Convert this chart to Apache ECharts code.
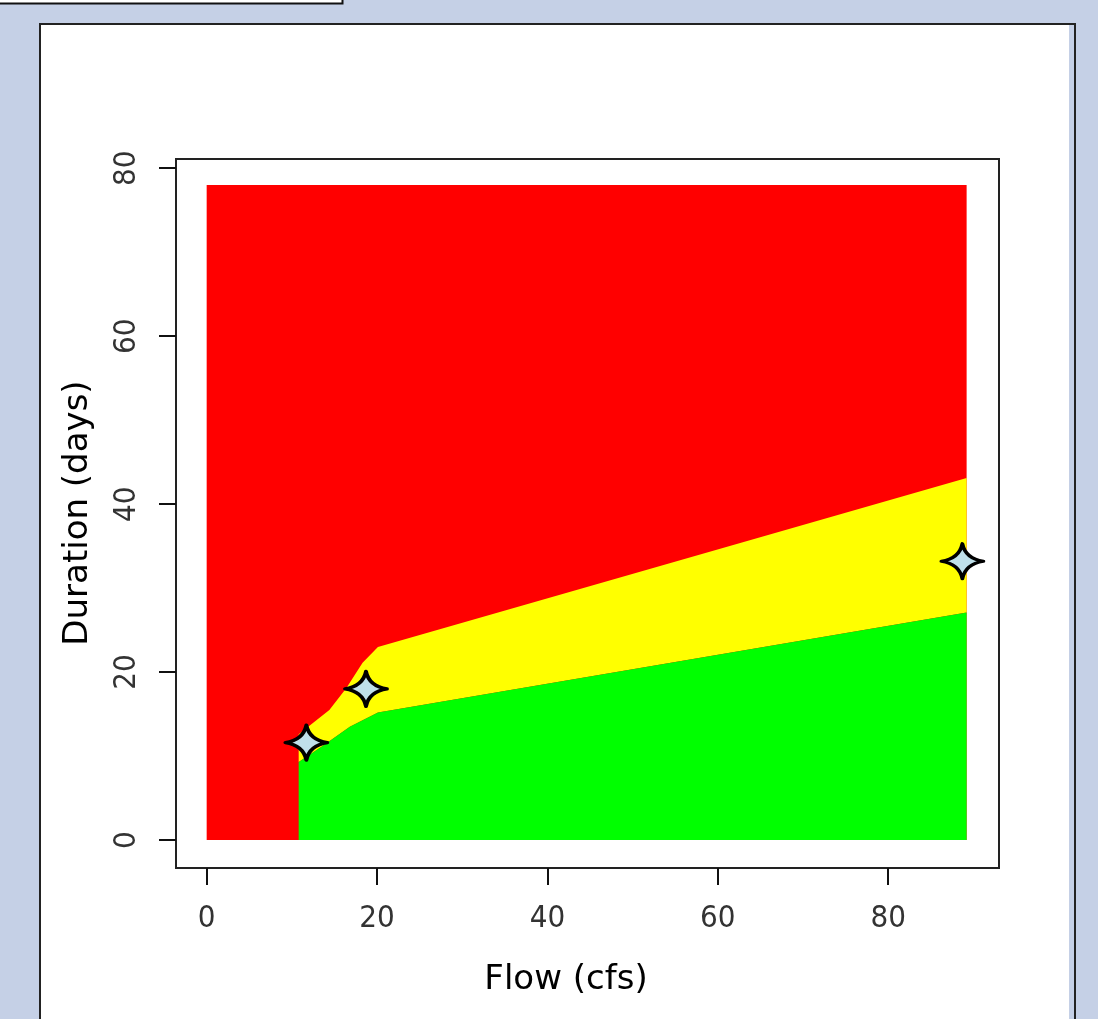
<!DOCTYPE html>
<html>
<head>
<meta charset="utf-8">
<style>
  html, body { margin: 0; padding: 0; background: #c5d0e6; }
  #chart { width: 1098px; height: 1019px; }
</style>
<script src="https://cdn.jsdelivr.net/npm/echarts@6/dist/echarts.min.js"></script>
</head>
<body>
<div id="chart"></div>
<script>
// ---- data ----
const flowMin = 0;
const flowMax = 89.2;
const durMin = 0;
const durMax = 78;

// red/yellow boundary
const upperFlow = [10.8, 14.4, 16.4, 18.3, 20.1, 89.2];
const upperDur  = [12.6, 15.5, 18.1, 21.1, 23.0, 43.1];
// yellow/green boundary
const lowerFlow = [10.8, 13.6, 16.8, 20.1, 89.2];
const lowerDur  = [9.3, 11.2, 13.5, 15.2, 27.1];

// observed points (stars)
const pointFlow = [11.7, 18.7, 88.7];
const pointDur  = [11.6, 18.0, 33.2];

const xTicks = [0, 20, 40, 60, 80];
const yTicks = [0, 20, 40, 60, 80];

const xTitle = 'Flow (cfs)';
const yTitle = 'Duration (days)';

// ---- build polygons ----
const redPoly = [[flowMin, durMin], [flowMax, durMin], [flowMax, durMax], [flowMin, durMax]];
const upperPts = upperFlow.map((x, i) => [x, upperDur[i]]);
const lowerPts = lowerFlow.map((x, i) => [x, lowerDur[i]]);
const yellowPoly = upperPts.concat(lowerPts.slice().reverse());
const greenPoly = lowerPts.concat([[lowerFlow[lowerFlow.length - 1], durMin], [lowerFlow[0], durMin]]);
const polys = [redPoly, yellowPoly, greenPoly];
const polyColors = ['#ff0000', '#ffff00', '#00ff00'];

const starPath = 'path://M0,-10 Q1.5,-1.5 10,0 Q1.5,1.5 0,10 Q-1.5,1.5 -10,0 Q-1.5,-1.5 0,-10 Z';

const chart = echarts.init(document.getElementById('chart'));
const bg = '#c5d0e6';
const tickFont = '"Liberation Sans Narrow", "DejaVu Sans Condensed", "Liberation Sans", sans-serif';
const titleFont = '"DejaVu Sans", Verdana, sans-serif';

chart.setOption({
  backgroundColor: bg,
  animation: false,
  graphic: [
    { type: 'rect', z: -10, shape: { x: -5, y: -5, width: 347.5, height: 8.5 },
      style: { fill: '#ffffff', stroke: '#111', lineWidth: 2 } },
    { type: 'rect', z: -10, shape: { x: 40, y: 24, width: 1035, height: 1100 },
      style: { fill: '#ffffff', stroke: '#222', lineWidth: 2 } },
    { type: 'rect', z: -9, shape: { x: 1069, y: 25, width: 5, height: 1000 },
      style: { fill: bg } },
    { type: 'text', z: 10, x: 566, y: 980,
      style: { text: xTitle, font: '34px ' + titleFont, fill: '#000', align: 'center', verticalAlign: 'middle' } },
    { type: 'text', z: 10, x: 78, y: 513, rotation: Math.PI / 2,
      style: { text: yTitle, font: '34px ' + titleFont, fill: '#000', align: 'center', verticalAlign: 'middle' } }
  ],
  grid: {
    left: 176, top: 159, right: 99, bottom: 151,
    show: true, borderColor: '#222', borderWidth: 2, backgroundColor: 'transparent'
  },
  xAxis: {
    type: 'value', min: -3.6, max: 93,
    axisLine: { show: false, onZero: false },
    splitLine: { show: false },
    axisTick: { show: true, inside: false, length: 17, lineStyle: { color: '#111', width: 2 }, customValues: xTicks },
    axisLabel: { customValues: xTicks, margin: 35, fontFamily: tickFont, fontSize: 31, color: '#333' }
  },
  yAxis: {
    type: 'value', min: -3.33, max: 81.1,
    axisLine: { show: false, onZero: false },
    splitLine: { show: false },
    axisTick: { show: true, inside: false, length: 17, lineStyle: { color: '#111', width: 2 }, customValues: yTicks },
    axisLabel: { customValues: yTicks, rotate: 90, margin: 34, fontFamily: tickFont, fontSize: 31, color: '#333' }
  },
  series: [
    {
      type: 'custom',
      coordinateSystem: 'cartesian2d',
      data: polys.map((p, i) => i),
      encode: { x: -1, y: -1 },
      silent: true,
      renderItem: function (params, api) {
        const idx = params.dataIndex;
        const pts = polys[idx].map(p => api.coord(p));
        return {
          type: 'polygon',
          shape: { points: pts },
          style: { fill: polyColors[idx], stroke: null }
        };
      },
      z: 2
    },
    {
      type: 'scatter',
      data: pointFlow.map((x, i) => [x, pointDur[i]]),
      symbol: starPath,
      symbolSize: [42, 35],
      itemStyle: { color: '#bfe0ea', borderColor: '#000', borderWidth: 3.5, borderJoin: 'round', opacity: 1 },
      z: 5
    }
  ]
});
</script>
</body>
</html>
